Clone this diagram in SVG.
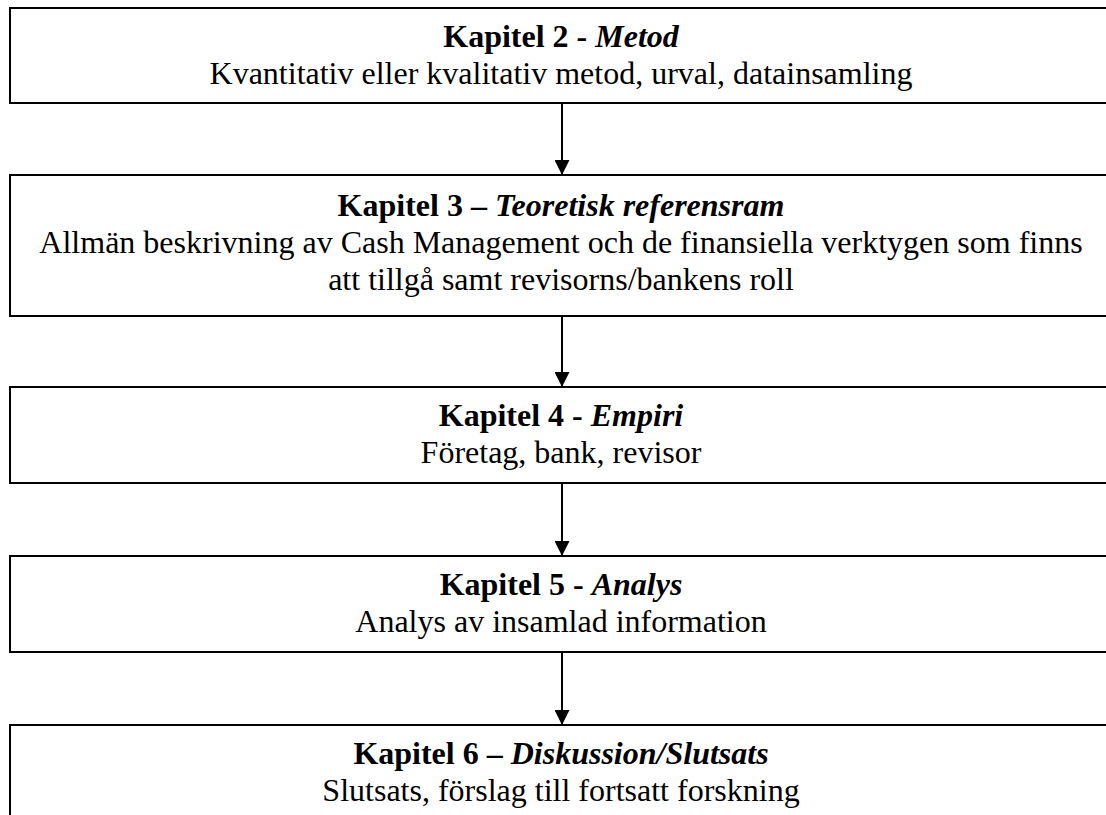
<svg xmlns="http://www.w3.org/2000/svg" width="1106" height="815" viewBox="0 0 1106 815">
<defs>
<style>
.box{fill:#ffffff;stroke:#000000;stroke-width:2}
.t{font-family:"Liberation Serif","Times New Roman",serif;font-size:32px;fill:#000;text-anchor:middle}
.b{font-weight:bold}
.bi{font-weight:bold;font-style:italic}
.conn{stroke:#000;stroke-width:2;fill:none}
</style>
<marker id="ah" viewBox="0 0 15 15" refX="15" refY="7.5" markerWidth="15" markerHeight="15" markerUnits="userSpaceOnUse" orient="auto">
<path d="M0,0 L15,7.5 L0,15 Z" fill="#000"/>
</marker>
</defs>
<rect width="1106" height="815" fill="#ffffff"/>
<g id="node-kap2">
<rect class="box" x="10" y="8" width="1110" height="95"/>
<text class="t" x="561" y="47"><tspan class="b">Kapitel 2 - </tspan><tspan class="bi">Metod</tspan></text>
<text class="t" x="561" y="84">Kvantitativ eller kvalitativ metod, urval, datainsamling</text>
</g>
<g id="node-kap3">
<rect class="box" x="10" y="175" width="1110" height="141"/>
<text class="t" x="561" y="216"><tspan class="b">Kapitel 3 – </tspan><tspan class="bi">Teoretisk referensram</tspan></text>
<text class="t" x="561" y="253">Allmän beskrivning av Cash Management och de finansiella verktygen som finns</text>
<text class="t" x="561" y="290">att tillgå samt revisorns/bankens roll</text>
</g>
<g id="node-kap4">
<rect class="box" x="10" y="387" width="1110" height="96"/>
<text class="t" x="561" y="426"><tspan class="b">Kapitel 4 - </tspan><tspan class="bi">Empiri</tspan></text>
<text class="t" x="561" y="463">Företag, bank, revisor</text>
</g>
<g id="node-kap5">
<rect class="box" x="10" y="556" width="1110" height="96"/>
<text class="t" x="561" y="595"><tspan class="b">Kapitel 5 - </tspan><tspan class="bi">Analys</tspan></text>
<text class="t" x="561" y="632">Analys av insamlad information</text>
</g>
<g id="node-kap6">
<rect class="box" x="10" y="725" width="1110" height="120"/>
<text class="t" x="561" y="764"><tspan class="b">Kapitel 6 – </tspan><tspan class="bi">Diskussion/Slutsats</tspan></text>
<text class="t" x="561" y="801">Slutsats, förslag till fortsatt forskning</text>
</g>
<g id="connectors">
<line class="conn" x1="562" y1="103" x2="562" y2="175" marker-end="url(#ah)"/>
<line class="conn" x1="562" y1="316" x2="562" y2="387" marker-end="url(#ah)"/>
<line class="conn" x1="562" y1="483" x2="562" y2="556" marker-end="url(#ah)"/>
<line class="conn" x1="562" y1="652" x2="562" y2="725" marker-end="url(#ah)"/>
</g>
</svg>
